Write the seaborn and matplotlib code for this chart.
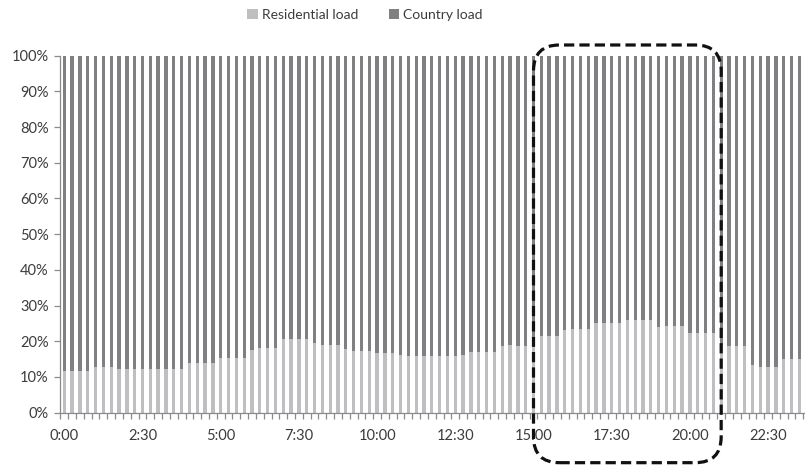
import matplotlib
matplotlib.use("Agg")
import matplotlib.pyplot as plt
from matplotlib.patches import FancyBboxPatch
from matplotlib.transforms import IdentityTransform
import seaborn as sns
import pandas as pd
import numpy as np

# Quarter-hour time slots over one day
times = [f"{h}:{m:02d}" for h in range(24) for m in (0, 15, 30, 45)]

# Share of residential load in the country load (%), per quarter hour
residential = [
    11.8, 11.8, 11.8, 11.8, 12.7, 12.7, 12.7, 12.3,
    12.2, 12.2, 12.2, 12.2, 12.3, 12.3, 12.3, 12.3,
    13.95, 13.95, 13.95, 13.95, 15.35, 15.35, 15.35, 15.35,
    17.5, 18.1, 18.1, 18.1, 20.7, 20.7, 20.7, 20.7,
    19.6, 19.05, 19.05, 19.05, 17.9, 17.4, 17.4, 17.4,
    16.8, 16.8, 16.8, 16.25, 15.9, 15.9, 15.9, 15.9,
    15.95, 15.95, 15.9, 16.1, 17.1, 17.1, 17.1, 17.1,
    18.8, 18.9, 18.8, 18.8, 21.6, 21.6, 21.6, 21.6,
    23.1, 23.5, 23.5, 23.5, 25.1, 25.1, 25.1, 25.1,
    25.9, 25.9, 25.9, 25.9, 24.1, 24.3, 24.3, 24.3,
    22.4, 22.2, 22.2, 22.2, 18.9, 18.8, 18.8, 18.8,
    13.3, 12.9, 12.9, 12.9, 14.95, 14.95, 14.95, 14.95,
]
country = [100 - r for r in residential]

tick_labels = ["0:00", "2:30", "5:00", "7:30", "10:00", "12:30",
               "15:00", "17:30", "20:00", "22:30"]
y_ticks = list(range(0, 101, 10))

df = pd.DataFrame({"time": times, "residential": residential, "country": country})
df["total"] = df["residential"] + df["country"]

light = "#bfbfc1"
dark = "#808082"
axis_col = "#8a8a8a"
text_col = "#3c3c3c"

sns.set_theme(style="white")
plt.rcParams["font.family"] = ["Lato", "DejaVu Sans"]

W, H = 805, 466
fig = plt.figure(figsize=(W / 100, H / 100), dpi=100)
fig.patch.set_facecolor("white")

n = len(times)
step = 7.82
left_px = 64.3 - 0.5 * step
right_px = left_px + n * step
bottom_px = H - 412.7
top_px = H - 55.7
ax = fig.add_axes([left_px / W, bottom_px / H, (right_px - left_px) / W,
                   (top_px - bottom_px) / H])

bw = 0.42
sns.barplot(data=df, x="time", y="total", color=dark, width=bw,
            saturation=1, linewidth=0, ax=ax, label="Country load")
sns.barplot(data=df, x="time", y="residential", color=light, width=bw,
            saturation=1, linewidth=0, ax=ax, label="Residential load")

ax.set_xlim(-0.5, n - 0.5)
ax.set_ylim(0, 100)
ax.set_xlabel("")
ax.set_ylabel("")

for s in ("top", "right"):
    ax.spines[s].set_visible(False)
for s in ("left", "bottom"):
    ax.spines[s].set_color(axis_col)
    ax.spines[s].set_linewidth(0.9)

label_pos = [times.index(t) for t in tick_labels]
ax.set_xticks(label_pos)
ax.set_xticklabels(tick_labels)
ax.set_xticks(np.arange(-0.5, n, 1), minor=True)
ax.tick_params(axis="x", which="major", length=0, pad=12,
               labelsize=10.5, labelcolor=text_col)
ax.tick_params(axis="x", which="minor", length=4.5, width=0.9,
               color=axis_col, direction="out", bottom=True)
ax.set_yticks(y_ticks)
ax.set_yticklabels([f"{v}%" for v in y_ticks])
ax.tick_params(axis="y", which="major", length=4.5, width=0.9,
               color=axis_col, direction="out", left=True, pad=4,
               labelsize=10.5, labelcolor=text_col)
ax.grid(False)
if ax.get_legend() is not None:
    ax.get_legend().remove()

# Legend at the top, residential first
handles, labels = ax.get_legend_handles_labels()
order = [labels.index("Residential load"), labels.index("Country load")]
fig.legend([handles[i] for i in order], [labels[i] for i in order],
           loc="center", bbox_to_anchor=(365 / W, 1 - 15 / H), ncol=2,
           frameon=False, fontsize=10, handlelength=0.75, handleheight=0.75,
           handletextpad=0.3, columnspacing=2.2, labelcolor=text_col)

# Dashed rounded frame around the evening slots
fig.canvas.draw()
x0, y0 = ax.transData.transform((60, -14))
x1, y1 = ax.transData.transform((84, 103))
lw_px = 3.2
frame = FancyBboxPatch((x0, y0), x1 - x0, y1 - y0,
                       boxstyle="round,pad=0,rounding_size=26",
                       transform=IdentityTransform(), fill=False,
                       edgecolor="#111111", linewidth=lw_px * 0.72,
                       linestyle=(0, (3.2, 1.6)), clip_on=False, zorder=10)
fig.patches.append(frame)

fig.savefig("out.png", dpi=100, facecolor="white")
